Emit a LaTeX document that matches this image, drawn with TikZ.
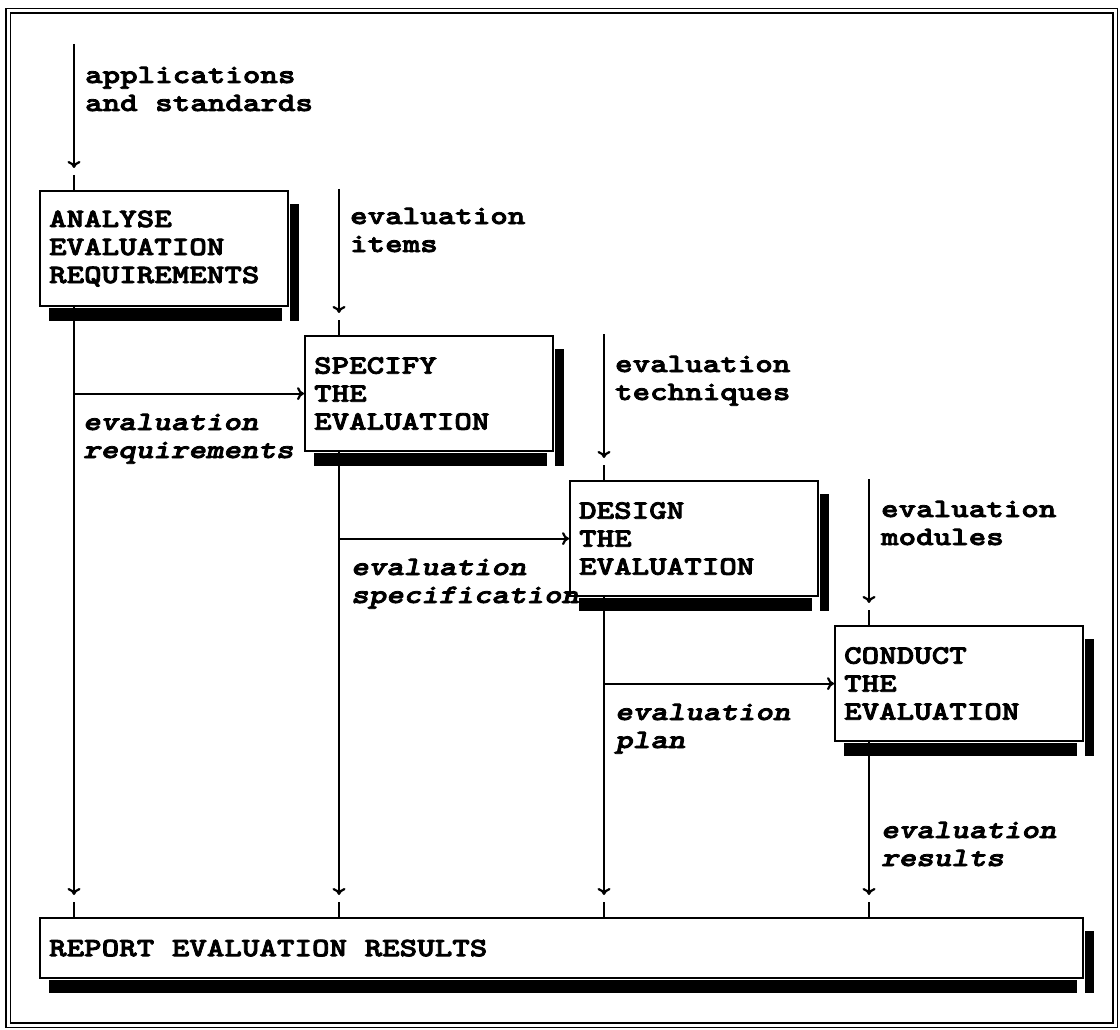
\documentclass[tikz,border=0pt]{standalone}
\usepackage{fontspec}
\usepackage{tikz}
\usetikzlibrary{arrows.meta}
\newfontfamily\boxfont[Extension=.otf, UprightFont=lmmonolt10-bold, BoldFont=lmmonolt10-bold, ItalicFont=lmmonolt10-boldoblique, BoldItalicFont=lmmonolt10-boldoblique, FakeStretch=1.26, FakeBold=3]{lmmonolt10-bold}
\tikzset{>={To[length=7pt,width=13pt]}}
\tikzset{
	stage/.style={draw, rectangle, line width=2.2pt, anchor=north west, minimum height=115pt, text width=230pt, inner xsep=9pt, align=left, font={\boxfont\fontsize{26.5pt}{28pt}\selectfont}},
	flowlabel/.style={anchor=base west, align=left, inner sep=0pt, font={\boxfont\fontsize{26.5pt}{28pt}\selectfont}},
	outlabel/.style={anchor=base west, align=left, inner sep=0pt, font={\boxfont\itshape\fontsize{26.5pt}{28pt}\selectfont}}
}
\newcommand{\boxshadow}[1]{% {node}
	\fill ([xshift=10pt,yshift=-1pt]#1.south west) rectangle ([xshift=-7pt,yshift=-14pt]#1.south east); % bottom bar
	\fill ([xshift=1pt,yshift=-14pt]#1.north east) rectangle ([xshift=10pt,yshift=-14pt]#1.south east); % right bar
}
\newcommand{\flowin}[2]{% {start}{point on box top}
	\draw[->] (#1) -- ([yshift=22pt]#2); % arrow
	\draw ([yshift=15pt]#2) -- (#2); % stub
}

\begin{document}
\begin{tikzpicture}[x=1pt, y=-1pt, line width=2.2pt]
	\useasboundingbox (0,0) rectangle (1120,1030);
	\draw[double, double distance=3pt, line width=1.5pt] (8,11) rectangle (1115,1025); % frame

	\node[stage] (analyse) at (39,190) {ANALYSE\\EVALUATION\\REQUIREMENTS};
	\node[stage] (specify) at (304,335) {SPECIFY\\THE\\EVALUATION};
	\node[stage] (design)  at (569,480) {DESIGN\\THE\\EVALUATION};
	\node[stage] (conduct) at (834,625) {CONDUCT\\THE\\EVALUATION};
	\node[stage, minimum height=60pt, text width={}] (report) at (39,917) {\makebox[1025pt][l]{REPORT EVALUATION RESULTS}};

	\foreach \n in {analyse,specify,design,conduct} {
		\coordinate (\n-in) at ([xshift=35pt]\n.north west);
		\coordinate (\n-out) at ([xshift=35pt]\n.south west);
		\coordinate (\n-src) at ([yshift=146pt]\n-in);
		\coordinate (\n-rep) at (\n-out |- report.north);
	}

	% flows in and out
	\foreach \n in {analyse,specify,design,conduct} {
		\flowin{\n-src}{\n-in}
		\flowin{\n-out}{\n-rep}
	}
	\draw[->] (analyse-out |- specify.west) -- (specify.west);
	\draw[->] (specify-out |- design.west) -- (design.west);
	\draw[->] (design-out |- conduct.west) -- (conduct.west);

	\foreach \n in {analyse,specify,design,conduct,report} {\boxshadow{\n}}

	% labels, placed at the baseline of their last line
	\node[flowlabel] (lbl-std)  at (84,111)   {applications\\and standards};
	\node[flowlabel] (lbl-items) at (349,252) {evaluation\\items};
	\node[flowlabel] (lbl-tech) at (614,400)  {evaluation\\techniques};
	\node[flowlabel] (lbl-mod)  at (880,545)  {evaluation\\modules};
	\node[outlabel] (lbl-req)   at (82,458)   {evaluation\\requirements};
	\node[outlabel] (lbl-spec)  at (350,603)  {evaluation\\specification};
	\node[outlabel] (lbl-plan)  at (614,748)  {evaluation\\plan};
	\node[outlabel] (lbl-res)   at (880,866)  {evaluation\\results};
\end{tikzpicture}
\end{document}
